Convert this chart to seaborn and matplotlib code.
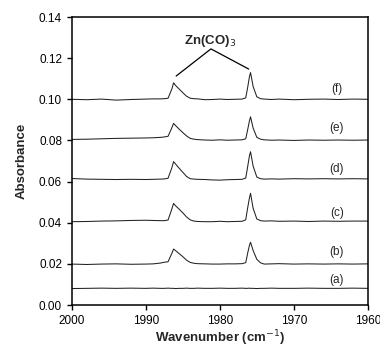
import pandas as pd
import seaborn as sns
import matplotlib.pyplot as plt

# Wavenumber grid (cm-1) shared by all spectra
wavenumber = [2000, 1998, 1996, 1994, 1992, 1990, 1989, 1988, 1987.5, 1987,
              1986.5, 1986.25, 1986, 1985.5, 1985, 1984.5, 1984, 1983.5, 1983,
              1982, 1981, 1980, 1979, 1978, 1977, 1976.5, 1976.25, 1976,
              1975.85, 1975.5, 1975, 1974.5, 1974, 1973, 1972, 1970, 1968,
              1966, 1964, 1962, 1960]

# Absorbance
spec_a = [0.0080, 0.0081, 0.0082, 0.0081, 0.0082, 0.0081, 0.0082, 0.0081, 0.0081, 0.0082,
          0.0081, 0.0081, 0.0080, 0.0081, 0.0081, 0.0082, 0.0081, 0.0081, 0.0082,
          0.0081, 0.0081, 0.0082, 0.0081, 0.0081, 0.0082, 0.0081, 0.0081, 0.0082,
          0.0081, 0.0081, 0.0080, 0.0081, 0.0081, 0.0082, 0.0081, 0.0081, 0.0082,
          0.0081, 0.0081, 0.0082, 0.0081]
spec_b = [0.0199, 0.0197, 0.0199, 0.0200, 0.0198, 0.0199, 0.0200, 0.0204, 0.0208, 0.0210,
          0.0250, 0.0272, 0.0265, 0.0250, 0.0235, 0.0218, 0.0207, 0.0203, 0.0201,
          0.0200, 0.0199, 0.0199, 0.0200, 0.0200, 0.0201, 0.0206, 0.0250, 0.0290,
          0.0305, 0.0265, 0.0222, 0.0205, 0.0199, 0.0200, 0.0201, 0.0199, 0.0200,
          0.0199, 0.0200, 0.0199, 0.0200]
spec_c = [0.0405, 0.0406, 0.0408, 0.0409, 0.0411, 0.0412, 0.0411, 0.0410, 0.0410, 0.0413,
          0.0465, 0.0494, 0.0483, 0.0466, 0.0448, 0.0428, 0.0414, 0.0408, 0.0406,
          0.0405, 0.0405, 0.0407, 0.0405, 0.0406, 0.0407, 0.0414, 0.0470, 0.0520,
          0.0543, 0.0470, 0.0418, 0.0410, 0.0408, 0.0409, 0.0407, 0.0408, 0.0406,
          0.0408, 0.0407, 0.0408, 0.0408]
spec_d = [0.0615, 0.0612, 0.0611, 0.0610, 0.0611, 0.0610, 0.0611, 0.0612, 0.0613, 0.0616,
          0.0665, 0.0697, 0.0686, 0.0665, 0.0645, 0.0625, 0.0614, 0.0612, 0.0611,
          0.0610, 0.0608, 0.0607, 0.0609, 0.0610, 0.0611, 0.0617, 0.0670, 0.0725,
          0.0745, 0.0675, 0.0622, 0.0614, 0.0612, 0.0613, 0.0612, 0.0614, 0.0613,
          0.0614, 0.0613, 0.0614, 0.0613]
spec_e = [0.0805, 0.0806, 0.0808, 0.0810, 0.0811, 0.0812, 0.0813, 0.0815, 0.0817, 0.0820,
          0.0860, 0.0883, 0.0873, 0.0855, 0.0838, 0.0822, 0.0810, 0.0806, 0.0804,
          0.0802, 0.0801, 0.0803, 0.0801, 0.0802, 0.0803, 0.0808, 0.0850, 0.0895,
          0.0915, 0.0860, 0.0815, 0.0806, 0.0803, 0.0801, 0.0802, 0.0800, 0.0802,
          0.0801, 0.0802, 0.0801, 0.0802]
spec_f = [0.1000, 0.0998, 0.1001, 0.0996, 0.0999, 0.1001, 0.1002, 0.1002, 0.1003, 0.1005,
          0.1048, 0.1080, 0.1068, 0.1050, 0.1032, 0.1015, 0.1005, 0.1003, 0.1002,
          0.0998, 0.0999, 0.1001, 0.0999, 0.1000, 0.1001, 0.1007, 0.1055, 0.1110,
          0.1130, 0.1062, 0.1012, 0.1003, 0.1001, 0.0999, 0.1001, 0.0998, 0.1000,
          0.1001, 0.0999, 0.1001, 0.1000]

labels = ['(a)', '(b)', '(c)', '(d)', '(e)', '(f)']
label_y = [0.0122, 0.0258, 0.0447, 0.0660, 0.0860, 0.1050]
label_x = 1964.2

# Zn(CO)3 bracket: apex and the two peak ends
bracket_x = [1985.9, 1981.2, 1976.1]
bracket_y = [0.1113, 0.1245, 0.1147]

spectra = [spec_a, spec_b, spec_c, spec_d, spec_e, spec_f]
frames = []
for lab, ys in zip(labels, spectra):
    frames.append(pd.DataFrame({'Wavenumber': wavenumber, 'Absorbance': ys, 'Sample': lab}))
df = pd.concat(frames, ignore_index=True)

sns.set_style("ticks")
plt.rcParams['font.family'] = ['Liberation Sans', 'DejaVu Sans']

fig, ax = plt.subplots(figsize=(3.8, 3.47), dpi=100)
fig.subplots_adjust(left=0.189, right=0.968, top=0.951, bottom=0.121)

sns.lineplot(data=df, x='Wavenumber', y='Absorbance', hue='Sample',
             palette=['#222222'] * 6, linewidth=0.75, legend=False, ax=ax,
             estimator=None, sort=False)

for lab, ly in zip(labels, label_y):
    ax.text(label_x, ly, lab, ha='center', va='center', fontsize=8.5)

ax.plot(bracket_x, bracket_y, color='black', linewidth=0.9)
ax.text(1981.3, 0.1283, r'Zn(CO)$_3$', ha='center', va='center',
        fontsize=9.5, fontweight='bold')

ax.set_xlim(2000, 1960)
ax.set_ylim(0, 0.14)
ax.set_xticks([2000, 1990, 1980, 1970, 1960])
ax.set_yticks([0.00, 0.02, 0.04, 0.06, 0.08, 0.10, 0.12, 0.14])
ax.set_yticklabels([f'{v:.2f}' for v in ax.get_yticks()])

ax.set_xlabel('Wavenumber (cm$^{-1}$)', fontsize=9.5, fontweight='bold', labelpad=1.5)
ax.set_ylabel('Absorbance', fontsize=9.5, fontweight='bold', labelpad=8)
ax.tick_params(direction='out', length=3.5, width=1, labelsize=8.5, colors='black',
               top=False, right=False)
for side in ['left', 'bottom', 'top', 'right']:
    ax.spines[side].set_visible(True)
    ax.spines[side].set_linewidth(1.1)
    ax.spines[side].set_color('black')

plt.savefig('out.png', dpi=100)
plt.close()
